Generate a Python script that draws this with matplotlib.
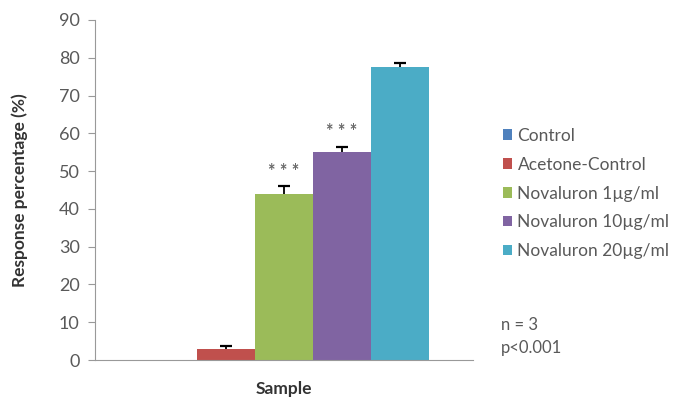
import matplotlib
matplotlib.use("Agg")
import matplotlib.pyplot as plt
import numpy as np

plt.rcParams['font.family'] = ['Lato', 'DejaVu Sans']

# Data
groups = ["Control", "Acetone-Control", "Novaluron 1µg/ml",
          "Novaluron 10µg/ml", "Novaluron 20µg/ml"]
values = [0.0, 3.0, 44.0, 55.0, 77.5]
errors = [0.0, 0.8, 2.0, 1.5, 1.0]
signif = ["", "", "***", "***", ""]
colors = ["#4F81BD", "#C0504D", "#9BBB59", "#8064A2", "#4BACC6"]
category = "Sample"
yticks = [0, 10, 20, 30, 40, 50, 60, 70, 80, 90]

text_col = "#595959"
axis_col = "#999999"

fig = plt.figure(figsize=(6.81, 3.99), dpi=100)
ax = fig.add_axes([0.1395, 0.0977, 0.555, 0.8523])

bar_w = 0.153
offsets = (np.arange(len(groups)) - (len(groups) - 1) / 2) * bar_w
for off, v, e, c, g, s in zip(offsets, values, errors, colors, groups, signif):
    ax.bar(off, v, width=bar_w, color=c, label=g, zorder=2)
    if e > 0:
        _, caps, _ = ax.errorbar(off, v, yerr=[[0], [e]], fmt='none',
                                 ecolor='black', elinewidth=1.3, capsize=4,
                                 capthick=1.6, zorder=3)
        caps[0].set_visible(False)  # plus-only error bar
    if s:
        ax.text(off, v + e + 4.0, " ".join(s), ha='center', va='center',
                fontsize=13, fontweight='bold', color="#666666")

ax.set_xlim(-0.5, 0.5)
ax.set_ylim(0, 90)
ax.set_yticks(yticks)
ax.set_xticks([])
ax.tick_params(axis='y', colors=axis_col, labelcolor=text_col,
               labelsize=13, length=5, width=0.8, direction='out', pad=6)
for sp in ['top', 'right']:
    ax.spines[sp].set_visible(False)
for sp in ['left', 'bottom']:
    ax.spines[sp].set_color(axis_col)
    ax.spines[sp].set_linewidth(0.8)

ax.set_ylabel("Response percentage (%)", fontsize=12.5, fontweight='bold',
              color="#333333", labelpad=22)
ax.set_xlabel(category, fontsize=12.5, fontweight='bold', color="#333333",
              labelpad=15)

leg = fig.legend(loc='upper left', bbox_to_anchor=(0.728, 0.697),
                 frameon=False, fontsize=12.5, labelcolor=text_col,
                 handlelength=0.55, handleheight=0.55, handletextpad=0.3,
                 labelspacing=0.74, borderaxespad=0)

fig.text(0.735, 0.185, "n = 3", fontsize=12, color=text_col, va='center')
fig.text(0.735, 0.128, "p<0.001", fontsize=12, color=text_col, va='center')

fig.savefig("out.png", dpi=100)
